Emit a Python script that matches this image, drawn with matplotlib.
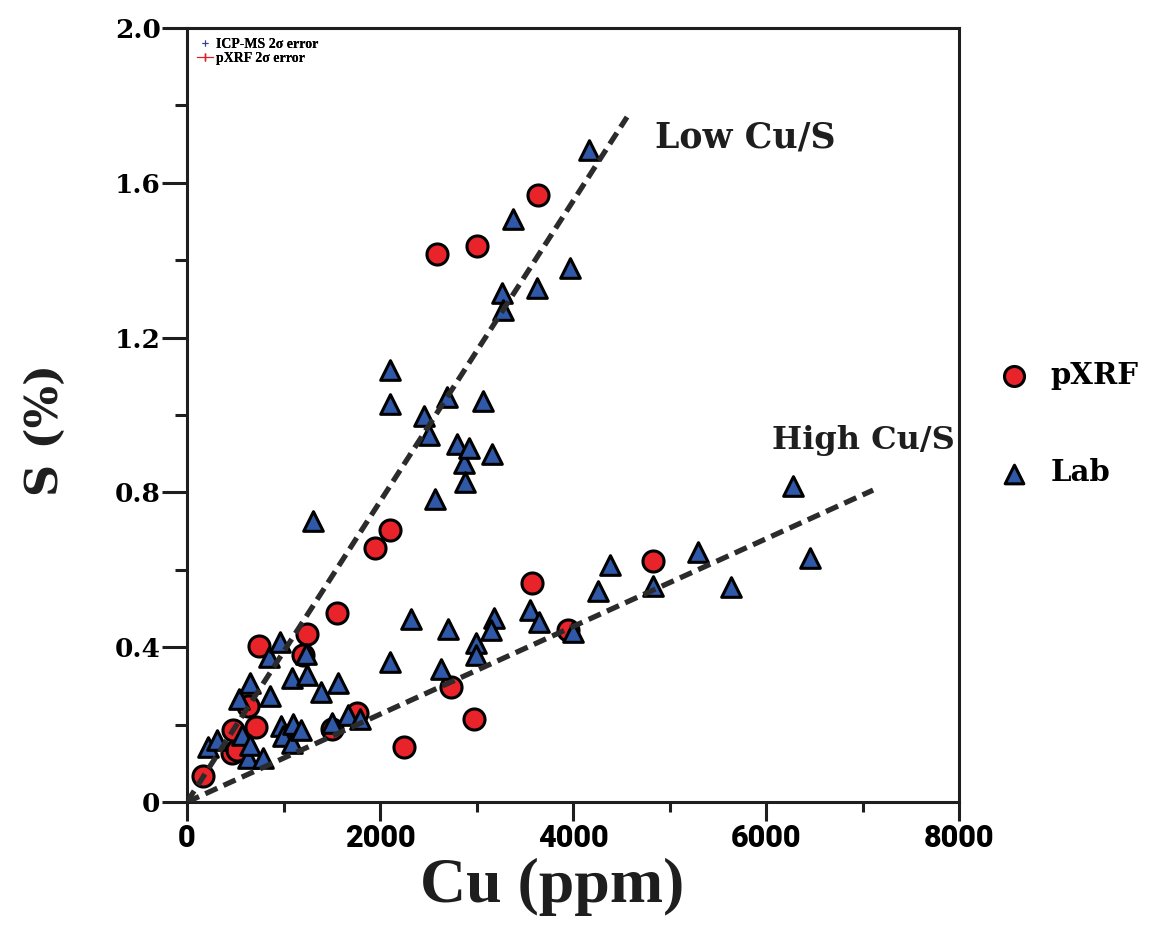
import matplotlib.pyplot as plt
from matplotlib.lines import Line2D

# pXRF readings (red circles)
pxrf_cu = [169, 463, 515, 480, 636, 712, 750, 1206, 1247, 1551, 1499, 1765,
           1948, 2104, 2249, 2591, 2732, 2974, 3005, 3572, 3637, 3950, 4826]
pxrf_s = [0.067, 0.126, 0.134, 0.186, 0.249, 0.195, 0.403, 0.381, 0.434, 0.489,
          0.188, 0.229, 0.656, 0.703, 0.141, 1.416, 0.298, 0.214, 1.437, 0.565,
          1.568, 0.445, 0.624]

# lab assays (blue triangles)
lab_cu = [221, 307, 542, 567, 636, 653, 653, 791, 853, 860, 964, 974, 999,
          1091, 1091, 1102, 1178, 1233, 1240, 1306, 1389, 1499, 1561, 1671,
          1793, 2104, 2104, 2104, 2321, 2459, 2511, 2570, 2632, 2691, 2701,
          2795, 2870, 2881, 2926, 2995, 2995, 3071, 3157, 3180, 3150, 3264,
          3278, 3378, 3550, 3627, 3650, 3969, 4000, 4166, 4263, 4383, 4833,
          5292, 5637, 6277, 6456]
lab_s = [0.143, 0.160, 0.265, 0.173, 0.113, 0.147, 0.307, 0.113, 0.375, 0.274,
         0.414, 0.196, 0.171, 0.153, 0.320, 0.202, 0.186, 0.382, 0.328, 0.726,
         0.285, 0.203, 0.307, 0.225, 0.214, 0.363, 1.116, 1.028, 0.472, 0.998,
         0.948, 0.782, 0.345, 1.046, 0.446, 0.925, 0.875, 0.828, 0.916, 0.411,
         0.380, 1.037, 0.898, 0.475, 0.445, 1.315, 1.271, 1.506, 0.495, 1.328,
         0.465, 1.380, 0.440, 1.685, 0.546, 0.612, 0.558, 0.647, 0.556, 0.817,
         0.630]

# trend lines
low_line_cu = [0, 4560]
low_line_s = [0, 1.77]
high_line_cu = [0, 7110]
high_line_s = [0, 0.806]

x_ticks = [0, 2000, 4000, 6000, 8000]
y_ticks = [0, 0.4, 0.8, 1.2, 1.6, 2.0]
y_tick_labels = ["0", "0.4", "0.8", "1.2", "1.6", "2.0"]

serif = "DejaVu Serif"
ink = "#1e1e1e"

fig = plt.figure(figsize=(11.63, 9.34), dpi=100)
ax = fig.add_axes([0.1608, 0.1413, 0.6638, 0.8287])

ax.scatter(pxrf_cu, pxrf_s, s=230, marker="o", color="#e8232a",
           edgecolor="black", linewidth=2.2, zorder=3, label="pXRF")
ax.scatter(lab_cu, lab_s, s=200, marker="^", color="#2f58a8",
           edgecolor="black", linewidth=2.2, zorder=4, label="Lab")

ax.plot(low_line_cu, low_line_s, color="#2b2b2b", lw=3.8,
        dashes=(2.5, 1.3), zorder=5)
ax.plot(high_line_cu, high_line_s, color="#2b2b2b", lw=3.8,
        dashes=(2.5, 1.3), zorder=5)

ax.text(4850, 1.718, "Low Cu/S", fontsize=25, fontweight="heavy",
        family=serif, color=ink, ha="left", va="center")
ax.text(6062, 0.935, "High Cu/S", fontsize=23, fontweight="heavy",
        family=serif, color=ink, ha="left", va="center")

ax.set_xlim(0, 8000)
ax.set_ylim(0, 2.0)
ax.set_xticks(x_ticks)
ax.set_xticks([1000, 3000, 5000, 7000], minor=True)
ax.set_yticks(y_ticks)
ax.set_yticklabels(y_tick_labels)
ax.set_yticks([0.2, 0.6, 1.0, 1.4, 1.8], minor=True)

for sp in ax.spines.values():
    sp.set_linewidth(2.2)
    sp.set_color(ink)

ax.tick_params(axis="both", which="both", direction="out", width=2.2, color=ink)
ax.tick_params(axis="x", which="major", length=14, pad=1)
ax.tick_params(axis="x", which="minor", length=7)
ax.tick_params(axis="y", which="major", length=18, pad=1)
ax.tick_params(axis="y", which="minor", length=9)

for lab in ax.get_xticklabels():
    lab.set_family(["Roboto", "DejaVu Sans"])
    lab.set_fontweight("black")
    lab.set_fontsize(22)
    lab.set_color("black")
for lab in ax.get_yticklabels():
    lab.set_family(serif)
    lab.set_fontweight("heavy")
    lab.set_fontsize(19)
    lab.set_color("black")

fig.text(552 / 1163, 1 - 887 / 934, "Cu (ppm)", fontsize=46, fontweight="bold",
         family="Liberation Serif", color=ink, ha="center", va="center")
fig.text(45 / 1163, 1 - 430 / 934, "S (%)", fontsize=32, fontweight="bold",
         family=serif, color=ink, rotation=90, ha="center", va="center")

# error legend in the corner
err_handles = [
    Line2D([], [], color="#3a3aa0", marker="+", markersize=4, lw=0,
           markeredgewidth=0.8),
    Line2D([], [], color="#e02020", marker="|", markersize=6, lw=0.8),
]
err_leg = ax.legend(err_handles, ["ICP-MS 2σ error", "pXRF 2σ error"],
                    loc="upper left", frameon=False, handlelength=1.2,
                    handletextpad=0.2, labelspacing=0.1, borderaxespad=0.3,
                    prop={"family": "Liberation Serif", "weight": "bold", "size": 10})
ax.add_artist(err_leg)

h, l = ax.get_legend_handles_labels()
fig.legend(h, l, loc="center left", bbox_to_anchor=(0.847, 0.546),
           frameon=False, handlelength=1.0, handletextpad=0.75,
           labelspacing=2.35, borderpad=0, markerscale=0.95,
           prop={"family": serif, "weight": "heavy", "size": 21})

fig.savefig("out.png", dpi=100)
